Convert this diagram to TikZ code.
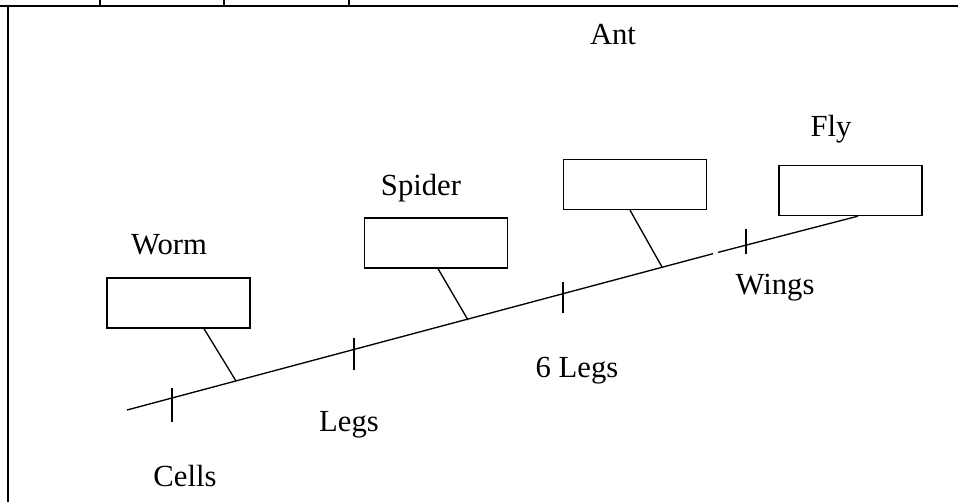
\documentclass[tikz,border=0pt]{standalone}
\usepackage{fontspec}
\setmainfont{Liberation Serif}

\begin{document}
\begin{tikzpicture}[x=0.75pt, y=-0.75pt]
  \tikzset{every node/.style={font=\fontsize{23}{27}\selectfont}}
  \tikzset{taxon box/.style={draw, line width=1pt, inner sep=0pt,
      minimum width=107.25pt, minimum height=37.5pt}}
  \tikzset{taxon label/.style={anchor=base}}
  \useasboundingbox (0,0) rectangle (958,502);
  % table frame
  \draw[line width=1.3pt] (0,6) -- (958,6);
  \draw[line width=1.3pt] (8,6) -- (8,502);
  \foreach \x in {100,224,349}
    \draw[line width=1.3pt] (\x,0) -- (\x,6);
  % boxes
  \node[taxon box] (worm box) at (178.5,303) {};
  \node[taxon box] (spider box) at (436,243) {};
  \node[taxon box] (ant box) at (635,184.5) {};
  \node[taxon box] (fly box) at (850.5,190.5) {};
  % labels
  \node[taxon label] (worm) at (169,255) {Worm};
  \node[taxon label] (spider) at (421,196) {Spider};
  \node[taxon label] (ant) at (613,45) {Ant};
  \node[taxon label] (fly) at (831,137) {Fly};
  \node[taxon label] (cells) at (185,487) {Cells};
  \node[taxon label] (legs) at (349,432) {Legs};
  \node[taxon label] (six legs) at (577,378) {6 Legs};
  \node[taxon label] (wings) at (775,295) {Wings};
  % main line
  \coordinate (axis start) at (127,410);
  \coordinate (axis end) at ([xshift=5.6pt]fly box.south);
  \coordinate (gap a) at (713,253.7);
  \coordinate (gap b) at (718,252.4);
  \draw[line width=1pt] (axis start) -- (gap a);
  \draw[line width=1pt] (gap b) -- (axis end);
  \foreach \x/\a/\b in {172/388/422, 354/338/370, 563/282/313, 746/229/254}
    \draw[line width=1pt] (\x,\a) -- (\x,\b);
  % stems
  \coordinate (worm foot) at (236,381);
  \coordinate (spider foot) at (468,320);
  \coordinate (ant foot) at (662,267);
  \draw[line width=1pt] ([xshift=19.1pt]worm box.south) -- (worm foot);
  \draw[line width=1pt] ([xshift=1.5pt]spider box.south) -- (spider foot);
  \draw[line width=1pt] ([xshift=-3.75pt]ant box.south) -- (ant foot);
\end{tikzpicture}
\end{document}
